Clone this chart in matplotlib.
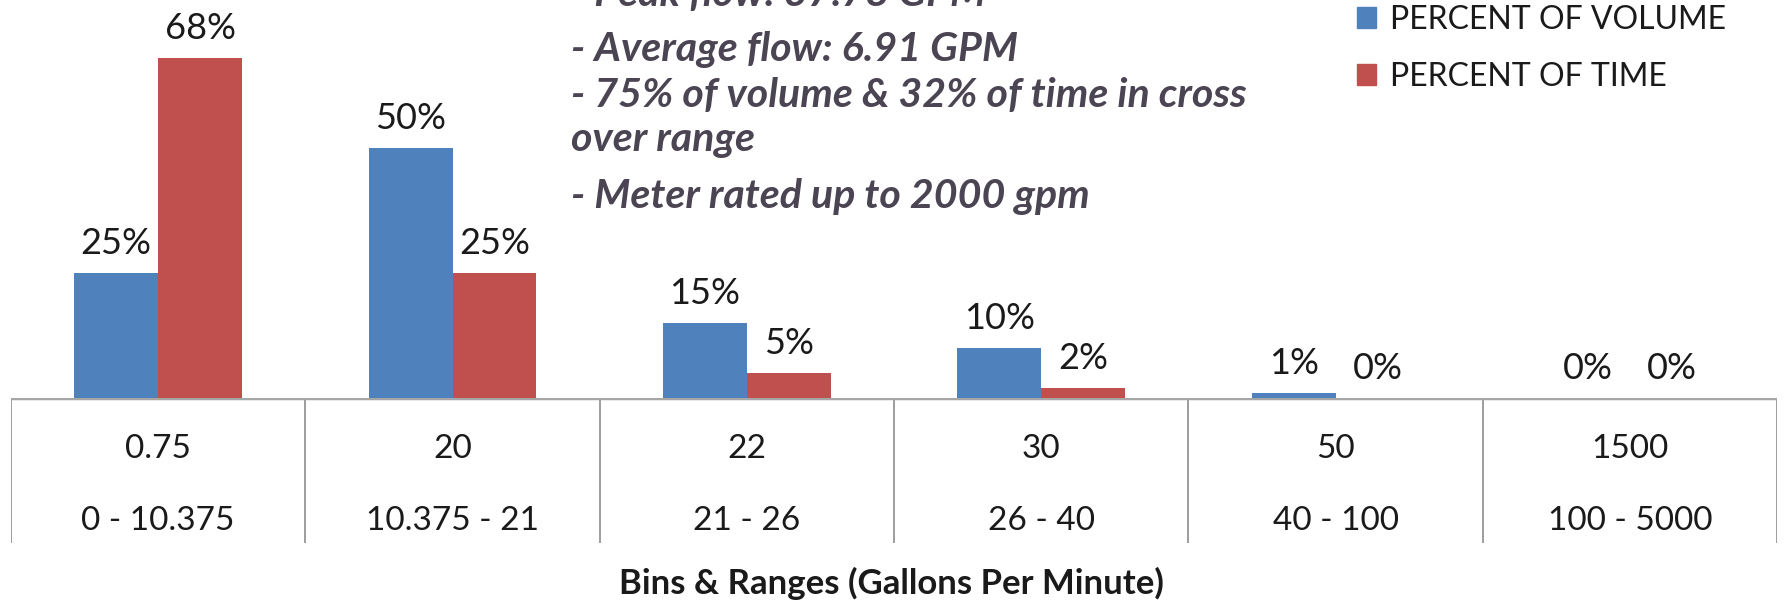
import numpy as np
import matplotlib.pyplot as plt
from matplotlib.patches import Patch

bins = ["0.75", "20", "22", "30", "50", "1500"]
ranges = ["0 - 10.375", "10.375 - 21", "21 - 26", "26 - 40", "40 - 100", "100 - 5000"]
pct_volume = [25, 50, 15, 10, 1, 0]
pct_time = [68, 25, 5, 2, 0, 0]
series_names = ["PERCENT OF VOLUME", "PERCENT OF TIME"]
notes = ["- Peak flow: 37.78 GPM",
         "- Average flow: 6.91 GPM",
         "- 75% of volume & 32% of time in cross",
         "over range",
         "- Meter rated up to 2000 gpm"]

plt.rcParams['font.family'] = ['Lato', 'DejaVu Sans']
blue, red = "#4F81BD", "#C0504D"
txt = "#1a1a1a"
grid = "#8c8c8c"

W, H = 1785, 602
fig = plt.figure(figsize=(W / 100, H / 100), dpi=100)
x0, x1 = 11, 1777      # table left / right edge (px)
base, tbot = 398, 543  # axis line / table bottom (px from top)

# bar area
ax = fig.add_axes([x0 / W, 1 - base / H, (x1 - x0) / W, base / H])
x = np.arange(len(bins))
bw = 0.285
ax.bar(x - bw / 2, pct_volume, bw, color=blue)
ax.bar(x + bw / 2, pct_time, bw, color=red)
for xi, v in zip(x - bw / 2, pct_volume):
    ax.annotate(f"{v}%", (xi, v), xytext=(0, 21), textcoords="offset points",
                ha="center", va="center", fontsize=26, color=txt)
for xi, v in zip(x + bw / 2, pct_time):
    ax.annotate(f"{v}%", (xi, v), xytext=(0, 21), textcoords="offset points",
                ha="center", va="center", fontsize=26, color=txt)
ax.set_xlim(-0.5, len(bins) - 0.5)
ax.set_ylim(0, 79.6)
ax.axis("off")

# table under the bars
tax = fig.add_axes([x0 / W, 1 - tbot / H, (x1 - x0) / W, (tbot - base) / H])
tax.set_xlim(-0.5, len(bins) - 0.5)
tax.set_ylim(0, 1)
tax.axis("off")
tax.vlines(np.arange(len(bins) + 1) - 0.5, 0, 1, color=grid, lw=1.2)
tax.hlines(1, -0.5, len(bins) - 0.5, color="#a6a6a6", lw=2.5)
for xi, b, r in zip(x, bins, ranges):
    tax.text(xi, 0.65, b, ha="center", va="center", fontsize=24, color=txt)
    tax.text(xi, 0.155, r, ha="center", va="center", fontsize=24, color=txt)

fig.text(891 / W, 1 - 583 / H, "Bins & Ranges (Gallons Per Minute)",
         ha="center", va="center", fontsize=25, weight="bold", color=txt)

# notes block
for yb, line in zip([6, 61, 107, 151, 208], notes):
    fig.text(571 / W, 1 - yb / H, line, ha="left", va="baseline", fontsize=29.6,
             weight="bold", style="italic", color="#4b4452")

fig.legend(handles=[Patch(color=blue), Patch(color=red)], labels=series_names,
           loc="upper left", bbox_to_anchor=(1328 / W, 1.04), frameon=False,
           fontsize=23, handlelength=0.6, handleheight=0.6, handletextpad=0.45,
           labelspacing=0.85, labelcolor=txt)

fig.savefig("out.png", dpi=100)
